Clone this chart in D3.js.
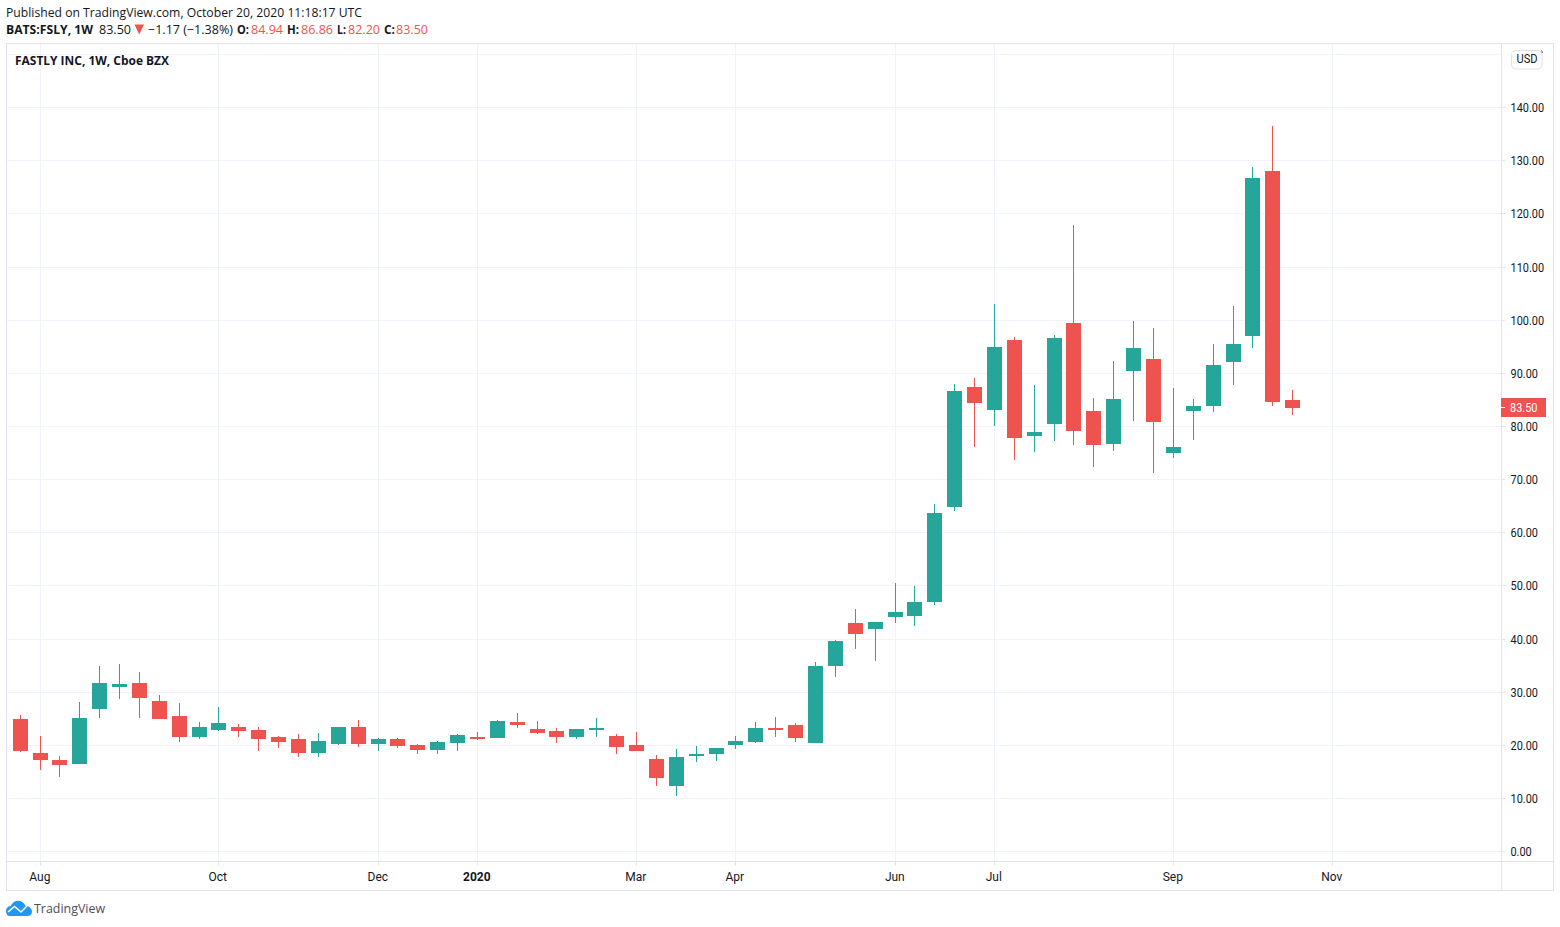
<!DOCTYPE html>
<html>
<head>
<meta charset="utf-8">
<title>FSLY</title>
<script src="https://d3js.org/d3.v7.min.js"></script>
<style>
html, body { margin: 0; padding: 0; background: #fff; }
svg { display: block; }
text { font-family: "Open Sans", sans-serif; fill: #131722; }
</style>
</head>
<body>
<div id="chart"></div>
<script>
// weekly bars, values
var weeks = ["2019-07-29","2019-08-05","2019-08-12","2019-08-19","2019-08-26","2019-09-02","2019-09-09","2019-09-16","2019-09-23","2019-09-30",
	"2019-10-07","2019-10-14","2019-10-21","2019-10-28","2019-11-04","2019-11-11","2019-11-18","2019-11-25","2019-12-02","2019-12-09",
	"2019-12-16","2019-12-23","2019-12-30","2020-01-06","2020-01-13","2020-01-20","2020-01-27","2020-02-03","2020-02-10","2020-02-17",
	"2020-02-24","2020-03-02","2020-03-09","2020-03-16","2020-03-23","2020-03-30","2020-04-06","2020-04-13","2020-04-20","2020-04-27",
	"2020-05-04","2020-05-11","2020-05-18","2020-05-25","2020-06-01","2020-06-08","2020-06-15","2020-06-22","2020-06-29","2020-07-06",
	"2020-07-13","2020-07-20","2020-07-27","2020-08-03","2020-08-10","2020-08-17","2020-08-24","2020-08-31","2020-09-07","2020-09-14",
	"2020-09-21","2020-09-28","2020-10-05","2020-10-12","2020-10-19"];
var opens = [24.93,18.53,17.22,16.47,26.82,31.0,31.71,28.32,25.5,21.55,
	22.86,23.43,22.86,21.55,21.17,18.53,20.23,23.43,20.23,21.17,
	20.04,19.1,20.42,21.55,21.36,24.37,23.05,22.68,21.55,22.86,
	21.73,20.04,17.41,12.32,17.97,18.35,20.04,20.6,23.24,23.8,
	20.42,34.9,43.0,41.87,44.13,44.32,46.95,64.83,87.41,83.08,
	96.25,78.17,80.45,99.45,82.9,76.68,90.42,92.68,74.99,82.9,
	83.84,92.11,97.0,128.05,84.94];
var highs = [25.69,21.73,17.97,28.13,34.9,35.28,33.78,29.45,27.95,24.37,
	27.2,23.99,23.43,21.73,22.11,22.3,23.43,24.75,21.36,21.36,
	20.23,20.79,22.11,22.49,24.75,26.06,24.56,23.24,23.05,25.12,
	22.11,22.49,18.16,19.29,19.85,19.48,21.73,24.37,25.31,24.18,
	35.66,39.8,45.63,43.19,50.53,49.96,65.39,87.97,89.1,103.03,
	96.82,87.78,97.2,117.9,85.34,92.3,99.83,98.5,87.22,85.15,
	95.5,102.66,128.8,136.53,86.86];
var lows = [18.72,15.34,14.02,16.47,25.12,28.7,25.12,24.93,20.6,21.17,
	22.68,21.55,18.91,19.48,17.78,17.78,20.04,19.67,18.91,19.48,
	18.35,18.35,18.91,20.98,21.36,23.24,22.11,20.42,21.17,21.55,
	18.35,18.91,12.32,10.45,16.84,17.03,19.29,20.42,21.55,20.6,
	20.42,32.84,38.1,35.85,43.0,42.44,46.39,64.08,76.12,80.07,
	73.67,75.18,77.25,76.5,72.36,75.37,81.0,71.23,74.05,77.44,
	82.71,87.78,94.75,83.84,82.2];
var closes = [18.91,17.22,16.28,25.12,31.71,31.52,28.88,24.93,21.55,23.43,
	24.18,22.68,21.17,20.6,18.53,20.79,23.43,20.23,21.17,19.85,
	19.1,20.6,21.92,21.17,24.56,23.8,22.3,21.55,23.05,23.24,
	19.67,18.91,13.83,17.78,18.35,19.48,20.79,23.24,22.86,21.36,
	34.9,39.6,40.93,43.19,45.07,46.95,63.7,86.66,84.4,94.94,
	77.8,78.9,96.63,79.13,76.5,85.15,94.75,80.83,76.12,83.84,
	91.55,95.5,126.75,84.59,83.5];

var priceTicks = [0,10,20,30,40,50,60,70,80,90,100,110,120,130,140];
var gridOnlyPrices = [150];
var timeTickDates = ["2019-08-05","2019-10-07","2019-12-02","2020-01-06","2020-03-02","2020-04-06","2020-06-01","2020-07-06","2020-09-07","2020-11-02"];
var timeTickLabels = ["Aug","Oct","Dec","2020","Mar","Apr","Jun","Jul","Sep","Nov"];
var lastPrice = 83.50;

var width = 1560, height = 927;
var upColor = "#26a69a", downColor = "#ef5350";
var gridColor = "#f0f3fa", borderColor = "#e0e3eb";
var left = 6.5, right = 1553.5, top_ = 43.5, bottom = 890.5, axisX = 1501.5, axisY = 861.5;
var bodyWidth = 15;
var axisFont = 'Roboto, sans-serif';

var parseDay = d3.utcParse("%Y-%m-%d");
var weekDates = weeks.map(parseDay);
var tickDates = timeTickDates.map(parseDay);

var x = d3.scaleUtc()
	.domain([parseDay("2019-07-29"), parseDay("2020-11-02")])
	.range([20.65, 1332.93]);
var y = d3.scaleLinear().domain([0, 140]).range([851.6, 107.64]);

// candles sit on whole pixels, wick in the middle of the body
function barLeft(d) { return Math.floor(x(d) - bodyWidth / 2); }
function snapX(d) { return barLeft(d) + 7.5; }
function snapY(v) { return Math.floor(y(v)) + 0.5; }
// the axis font in the picture is narrower than what is installed
function priceWidth(s) { return (s.length - 1) * 6.15 + 2.8; }

var svg = d3.select("#chart").append("svg").attr("width", width).attr("height", height);
svg.append("rect").attr("width", width).attr("height", height).attr("fill", "#fff");

// grid
var grid = svg.append("g").attr("fill", "none").attr("stroke", gridColor);
grid.selectAll("line.h").data(priceTicks.concat(gridOnlyPrices)).enter().append("line")
	.attr("class", "h")
	.attr("x1", left).attr("x2", axisX)
	.attr("y1", snapY).attr("y2", snapY);
grid.selectAll("line.v").data(tickDates).enter().append("line")
	.attr("class", "v")
	.attr("y1", top_).attr("y2", axisY)
	.attr("x1", snapX).attr("x2", snapX);

// candles
var bars = d3.range(weeks.length);
var candles = svg.append("g");
candles.selectAll("rect.wick").data(bars).enter().append("rect")
	.attr("class", "wick")
	.attr("x", function(i) { return barLeft(weekDates[i]) + 7; })
	.attr("width", 1)
	.attr("y", function(i) { return Math.round(y(highs[i])); })
	.attr("height", function(i) { return Math.round(y(lows[i])) - Math.round(y(highs[i])); })
	.attr("fill", function(i) { return closes[i] >= opens[i] ? upColor : downColor; });
candles.selectAll("rect.body").data(bars).enter().append("rect")
	.attr("class", "body")
	.attr("x", function(i) { return barLeft(weekDates[i]); })
	.attr("width", bodyWidth)
	.attr("y", function(i) { return Math.round(y(Math.max(opens[i], closes[i]))); })
	.attr("height", function(i) { return Math.round(y(Math.min(opens[i], closes[i]))) - Math.round(y(Math.max(opens[i], closes[i]))); })
	.attr("fill", function(i) { return closes[i] >= opens[i] ? upColor : downColor; });

// frame
var frame = svg.append("g").attr("fill", "none").attr("stroke", borderColor);
frame.append("rect").attr("x", left).attr("y", top_).attr("width", right - left).attr("height", bottom - top_);
frame.append("line").attr("x1", axisX).attr("x2", axisX).attr("y1", top_).attr("y2", bottom);
frame.append("line").attr("x1", left).attr("x2", right).attr("y1", axisY).attr("y2", axisY);

// axes
var priceAxis = d3.axisRight(y).tickValues(priceTicks).tickSize(4).tickPadding(5)
	.tickFormat(d3.format(".2f"));
var priceG = svg.append("g").attr("transform", "translate(" + axisX + ",0)").call(priceAxis);
priceG.select(".domain").remove();
priceG.selectAll(".tick").attr("transform", function(d) { return "translate(0," + snapY(d) + ")"; });
priceG.selectAll(".tick line").attr("stroke", borderColor);
priceG.selectAll(".tick text").attr("font-size", 12).attr("dy", "0.34em")
	.attr("textLength", function(d) { return priceWidth(d3.format(".2f")(d)); })
	.attr("lengthAdjust", "spacingAndGlyphs")
	.style("font-family", axisFont).style("fill", "#131722");

var timeAxis = d3.axisBottom(x).tickValues(tickDates).tickSize(4).tickPadding(7)
	.tickFormat(function(d, i) { return timeTickLabels[i]; });
var timeG = svg.append("g").attr("transform", "translate(0," + axisY + ")").call(timeAxis);
timeG.select(".domain").remove();
timeG.selectAll(".tick").attr("transform", function(d) { return "translate(" + snapX(d) + ",0)"; });
timeG.selectAll(".tick line").attr("stroke", borderColor);
timeG.selectAll(".tick text").attr("font-size", 12).attr("dx", -0.7)
	.style("font-family", axisFont).style("fill", "#131722")
	.attr("font-weight", function(d, i) { return timeTickLabels[i] === "2020" ? "bold" : "normal"; });

// last price tag
var tag = svg.append("g");
tag.append("rect").attr("x", 1501).attr("y", Math.round(y(lastPrice) - 9.5)).attr("width", 45).attr("height", 19).attr("fill", downColor);
tag.append("rect").attr("x", 1501).attr("y", Math.floor(y(lastPrice))).attr("width", 4).attr("height", 1).attr("fill", "#fff");
tag.append("text").attr("x", 1510).attr("y", y(lastPrice)).attr("dy", "0.36em")
	.attr("font-size", 12).attr("textLength", priceWidth("83.50")).attr("lengthAdjust", "spacingAndGlyphs")
	.style("font-family", axisFont).style("fill", "#fff").text(d3.format(".2f")(lastPrice));

// currency button
svg.append("rect").attr("x", 1511.5).attr("y", 50.5).attr("width", 30.5).attr("height", 18.5).attr("rx", 4)
	.attr("fill", "#fff").attr("stroke", borderColor);
svg.append("path").attr("d", "M1541.5 50.5Q1542.3 51.5 1542.3 53").attr("fill", "none").attr("stroke", "#50535e");
svg.append("text").attr("x", 1527).attr("y", 59).attr("dy", "0.36em").attr("text-anchor", "middle")
	.attr("font-size", 12).attr("textLength", 21).attr("lengthAdjust", "spacingAndGlyphs")
	.style("font-family", axisFont).text("USD");

// header lines
svg.append("text").attr("x", 6).attr("y", 17).attr("font-size", 12)
	.attr("textLength", 356).attr("lengthAdjust", "spacingAndGlyphs")
	.text("Published on TradingView.com, October 20, 2020 11:18:17 UTC");
var headerParts = [
	{t: "BATS:FSLY, 1W", x: 6, len: 87, w: "bold", c: "#131722"},
	{t: "83.50", x: 99, len: 32, w: "normal", c: "#131722"},
	{t: "\u22121.17 (\u22121.38%)", x: 148, len: 85, w: "normal", c: "#131722"},
	{t: "O:", x: 237, len: 12, w: "bold", c: "#131722"},
	{t: "84.94", x: 251, len: 32, w: "normal", c: downColor},
	{t: "H:", x: 287, len: 12, w: "bold", c: "#131722"},
	{t: "86.86", x: 301, len: 32, w: "normal", c: downColor},
	{t: "L:", x: 337, len: 9, w: "bold", c: "#131722"},
	{t: "82.20", x: 348, len: 32, w: "normal", c: downColor},
	{t: "C:", x: 384, len: 11, w: "bold", c: "#131722"},
	{t: "83.50", x: 396, len: 32, w: "normal", c: downColor}
];
svg.selectAll("text.hdr").data(headerParts).enter().append("text")
	.attr("class", "hdr")
	.attr("x", function(d) { return d.x; }).attr("y", 34)
	.attr("font-size", 12).attr("font-weight", function(d) { return d.w; })
	.attr("textLength", function(d) { return d.len; }).attr("lengthAdjust", "spacingAndGlyphs")
	.style("fill", function(d) { return d.c; })
	.text(function(d) { return d.t; });
svg.append("path").attr("d", "M134.5 24.5H144L139.2 34.5Z").attr("fill", downColor);

svg.append("text").attr("x", 15).attr("y", 65).attr("font-size", 12).attr("font-weight", "bold")
	.attr("textLength", 154).attr("lengthAdjust", "spacingAndGlyphs")
	.text("FASTLY INC, 1W, Cboe BZX");

// logo
svg.append("path")
	.attr("d", "M6 911C6 908 8 906.5 10.5 906C12.5 902.5 15 900.8 18 900.8C21.5 900.8 24 902.8 25.5 906C29.5 906.3 32 908.5 32 911.5C32 914.5 30 916 27 916H10C7.5 916 6 914 6 911Z")
	.attr("fill", "#2196f3");
svg.append("path")
	.attr("d", "M8 912L14.5 906.5L21 912L27 906")
	.attr("fill", "none").attr("stroke", "#fff").attr("stroke-width", 1.5);
svg.append("text").attr("x", 34).attr("y", 913).attr("font-size", 13)
	.attr("textLength", 71).attr("lengthAdjust", "spacingAndGlyphs")
	.style("fill", "#4a4e5a").text("TradingView");
</script>
</body>
</html>
